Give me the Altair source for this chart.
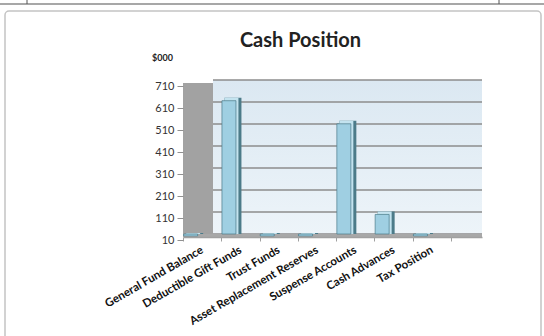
import altair as alt
import pandas as pd

categories = ["General Fund Balance", "Deductible Gift Funds", "Trust Funds",
              "Asset Replacement Reserves", "Suspense Accounts", "Cash Advances", "Tax Position"]
values = [0, 625, 3, 2, 520, 108, 2]
y_ticks = [10, 110, 210, 310, 410, 510, 610, 710]

df = pd.DataFrame({"category": categories, "value": values})
grid_df = pd.DataFrame({"tick": y_ticks})
one = alt.Data(values=[{"k": 1}])

W, H = 299, 154
FONT = "Lato"

x_scale = alt.Scale(domain=categories, paddingInner=0, paddingOuter=0.4035, align=0)
y_scale = alt.Scale(domain=[10, 710], zero=False, nice=False, clamp=True)

x_axis = alt.Axis(labelAngle=330, labelAlign="right", labelBaseline="middle",
                  tickBand="extent", offset=3, domainColor="#a0a0a0", domainWidth=1.5,
                  tickColor="#a0a0a0", tickSize=4, labelPadding=8, labelFontSize=11.5,
                  labelFontWeight="bold", labelColor="#111111", labelFont=FONT,
                  title=None, labelOverlap=False, zindex=1)
y_axis = alt.Axis(values=y_ticks, grid=False, domain=False, tickSize=6, tickColor="#909090",
                  tickOffset=6, labelPadding=3, labelFontSize=11, labelColor="#333333",
                  labelFont=FONT, title="$000", titleAngle=0, titleX=-21, titleY=-23,
                  titleAlign="center", titleBaseline="middle", titleFontSize=9,
                  titleFontWeight="bold", titleFont=FONT, titleColor="#222222", zindex=1)

frame = alt.Chart(one).mark_rect(filled=False, stroke="#c4c4c4", strokeWidth=1.5,
                                 cornerRadius=4).encode(
    x=alt.value(-178), x2=alt.value(358), y=alt.value(-69), y2=alt.value(275))

top_line = alt.Chart(one).mark_rule(color="#8a8a8a", strokeWidth=1.5).encode(
    x=alt.value(-183), x2=alt.value(361), y=alt.value(-76))
vline1 = alt.Chart(one).mark_rule(color="#555555", strokeWidth=1).encode(
    x=alt.value(-156), y=alt.value(-80), y2=alt.value(-76))
vline2 = alt.Chart(one).mark_rule(color="#555555", strokeWidth=1).encode(
    x=alt.value(316), y=alt.value(-80), y2=alt.value(-76))

back_wall = alt.Chart(one).mark_rect(
    color=alt.Gradient(gradient="linear", x1=0, y1=0, x2=0, y2=1,
                       stops=[alt.GradientStop(color="#dbe8f2", offset=0),
                              alt.GradientStop(color="#edf4f9", offset=1)])
).encode(x=alt.value(30), x2=alt.value(W), y=alt.value(0), y2=alt.value(H))

side_wall = alt.Chart(one).mark_rect(color="#a2a2a2").encode(
    x=alt.value(0), x2=alt.value(30), y=alt.value(3), y2=alt.value(H + 2))

grid = alt.Chart(grid_df).mark_rule(color="#8c8c8c", strokeWidth=1.5).encode(
    y=alt.Y("tick:Q", scale=y_scale, axis=y_axis),
    x=alt.value(30), x2=alt.value(W))

floor = alt.Chart(one).mark_rect(color="#a8a8a8").encode(
    x=alt.value(0), x2=alt.value(W), y=alt.value(H), y2=alt.value(H + 3))

def enc(ch):
    return ch.encode(
        x=alt.X("category:N", scale=x_scale, sort=categories, axis=x_axis),
        y=alt.Y("value:Q", scale=y_scale, axis=y_axis),
        y2=alt.datum(10))

side = enc(alt.Chart(df).mark_bar(width=17, xOffset=-7.5, yOffset=-1, color="#4c7b89"))
top_face = enc(alt.Chart(df).mark_bar(width=14, xOffset=-9, yOffset=-1, color="#c3e3ef"))
front = enc(alt.Chart(df).mark_bar(width=14, xOffset=-11.5, yOffset=2, color="#9fcfe2",
                                   stroke="#4a7a88", strokeWidth=0.7))

chart = alt.layer(frame, top_line, vline1, vline2, back_wall, side_wall, grid, floor,
                  side, top_face, front).properties(
    width=W, height=H,
    autosize=alt.AutoSizeParams(type="none"),
    padding={"left": 183, "top": 80, "right": 62, "bottom": 102},
    background="white",
    title=alt.TitleParams("Cash Position", font=FONT, fontSize=20, fontWeight="bold",
                          color="#222222", anchor="middle", dx=-32, dy=67, frame="group",
                          baseline="alphabetic", offset=0),
).configure_view(stroke=None)

chart.save("out.html", embed_options={"renderer": "svg", "actions": False})
